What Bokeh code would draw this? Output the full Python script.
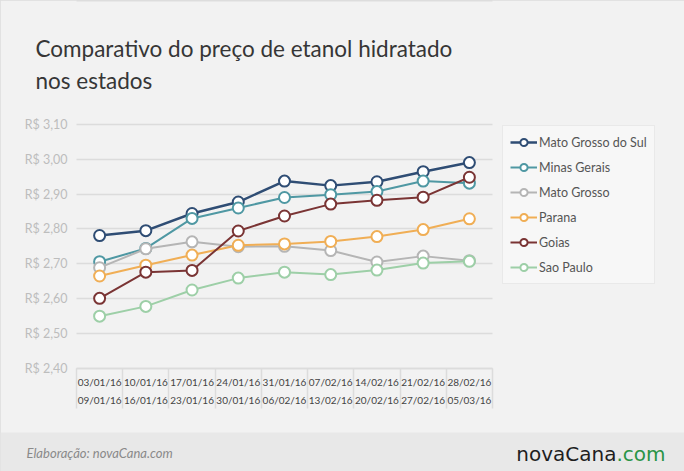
from bokeh.plotting import figure
from bokeh.models import (FixedTicker, Label, Legend, LegendItem, ColumnDataSource,
                          Range1d, BoxAnnotation)
from bokeh.embed import file_html
from bokeh.resources import INLINE

# ---- data ----
weeks_start = ["03/01/16", "10/01/16", "17/01/16", "24/01/16", "31/01/16",
               "07/02/16", "14/02/16", "21/02/16", "28/02/16"]
weeks_end = ["09/01/16", "16/01/16", "23/01/16", "30/01/16", "06/02/16",
             "13/02/16", "20/02/16", "27/02/16", "05/03/16"]
mato_grosso_do_sul = [2.781, 2.795, 2.844, 2.877, 2.937, 2.924, 2.935, 2.964, 2.990]
minas_gerais = [2.706, 2.744, 2.830, 2.860, 2.890, 2.898, 2.907, 2.937, 2.931]
mato_grosso = [2.689, 2.743, 2.763, 2.749, 2.750, 2.738, 2.705, 2.722, 2.709]
parana = [2.665, 2.696, 2.725, 2.753, 2.757, 2.764, 2.778, 2.798, 2.829]
goias = [2.601, 2.676, 2.681, 2.794, 2.837, 2.871, 2.882, 2.891, 2.948]
sao_paulo = [2.550, 2.578, 2.625, 2.659, 2.676, 2.669, 2.682, 2.702, 2.707]
y_ticks = [2.40, 2.50, 2.60, 2.70, 2.80, 2.90, 3.00, 3.10]

series = [
    ("Mato Grosso do Sul", mato_grosso_do_sul, "#2f4d74", 2.5),
    ("Minas Gerais", minas_gerais, "#4f98a3", 2),
    ("Mato Grosso", mato_grosso, "#b5b5b5", 2),
    ("Parana", parana, "#f0ae55", 2),
    ("Goias", goias, "#7a3434", 2),
    ("Sao Paulo", sao_paulo, "#9dcfa7", 2),
]

# ---- layout constants (page pixels) ----
BG = "#f2f2f2"
FONT = "Lato"
W, H = 684, 471
PX_L, PX_R = 76, 492          # left / right edge of plotting area
PY_TOP, PY_BOT = 123.7, 368   # pixel rows of y_ticks[-1] and y_ticks[0]
FOOT_TOP = 432                # top of the footer band
N = len(weeks_start)

# the frame spans the whole page; ranges are set so the plotting area lands at the pixels above
ux = N / (PX_R - PX_L)
uy = (y_ticks[-1] - y_ticks[0]) / (PY_BOT - PY_TOP)
x0, x1 = -PX_L * ux, (W - PX_L) * ux
y1 = y_ticks[-1] + PY_TOP * uy
y0 = y_ticks[0] - (H - PY_BOT) * uy

xs = [i + 0.5 for i in range(N)]

p = figure(width=W, height=H, output_backend="svg", toolbar_location=None,
           x_range=Range1d(x0, x1), y_range=Range1d(y0, y1), min_border=0)
p.background_fill_color = BG
p.border_fill_color = BG
p.outline_line_color = "#dddddd"
p.outline_line_width = 2

# grid, then cover it outside the plotting area
p.ygrid.grid_line_color = "#dcdcdc"
p.ygrid.grid_line_width = 1.5
p.ygrid.ticker = FixedTicker(ticks=y_ticks)
p.xgrid.grid_line_color = None
p.add_layout(BoxAnnotation(right=0, fill_color=BG, fill_alpha=1, line_color=None, level="underlay"))
p.add_layout(BoxAnnotation(left=N, fill_color=BG, fill_alpha=1, line_color=None, level="underlay"))
p.add_layout(BoxAnnotation(top=y0 + (H - FOOT_TOP) * uy, fill_color="#e8e8e8", fill_alpha=1,
                           line_color=None, level="underlay"))

items = []
for name, vals, color, lw in series:
    src = ColumnDataSource(dict(x=xs, y=vals))
    r1 = p.line("x", "y", source=src, line_color=color, line_width=lw)
    r2 = p.scatter("x", "y", source=src, size=11, fill_color="white",
                   line_color=color, line_width=2)
    items.append(LegendItem(label=name, renderers=[r1, r2]))

# y axis, pinned at the left edge of the plotting area
p.yaxis.fixed_location = 0
p.yaxis.ticker = FixedTicker(ticks=y_ticks)
p.yaxis.major_label_overrides = {t: "R$ " + f"{t:.2f}".replace(".", ",") for t in y_ticks}
p.yaxis.axis_line_color = None
p.yaxis.major_tick_line_color = None
p.yaxis.minor_tick_line_color = None
p.yaxis.major_tick_out = 0
p.yaxis.major_tick_in = 0
p.yaxis.major_label_text_color = "#bdbdbd"
p.yaxis.major_label_text_font = FONT
p.yaxis.major_label_text_font_size = "12.5px"
p.yaxis.major_label_standoff = 9

# x axis, pinned at the bottom of the plotting area
p.xaxis.fixed_location = y_ticks[0]
p.xaxis.ticker = FixedTicker(ticks=xs, minor_ticks=list(range(N + 1)))
p.xaxis.bounds = (0, N)
p.xaxis.major_label_overrides = {x: s + "\n" + e for x, s, e in zip(xs, weeks_start, weeks_end)}
p.xaxis.axis_line_color = "#dcdcdc"
p.xaxis.axis_line_width = 1.5
p.xaxis.major_tick_line_color = None
p.xaxis.minor_tick_line_color = "#dcdcdc"
p.xaxis.minor_tick_line_width = 1.5
p.xaxis.minor_tick_out = 40
p.xaxis.minor_tick_in = 0
p.xaxis.major_tick_out = 0
p.xaxis.major_tick_in = 0
p.xaxis.major_label_standoff = -33
p.xaxis.major_label_text_color = "#444444"
p.xaxis.major_label_text_font = FONT
p.xaxis.major_label_text_font_size = "10px"
p.xaxis.major_label_text_line_height = 1.55

legend = Legend(items=items, location=(502, H - 284), orientation="vertical")
legend.border_line_color = "#dcdcdc"
legend.border_line_width = 1.5
legend.background_fill_color = "#f7f7f7"
legend.background_fill_alpha = 1
legend.padding = 7
legend.spacing = 7
legend.glyph_width = 27
legend.glyph_height = 18
legend.label_height = 18
legend.label_standoff = 2
legend.label_text_font = FONT
legend.label_text_font_size = "12.5px"
legend.label_text_color = "#555555"
legend.margin = 0
p.add_layout(legend, "center")

# title and footer texts (screen units from the page's bottom-left corner)
p.add_layout(Label(x=35, y=H - 48, x_units="screen", y_units="screen",
                   text="Comparativo do preço de etanol hidratado",
                   text_font=FONT, text_font_size="22.5px", text_color="#363636",
                   text_baseline="alphabetic"))
p.add_layout(Label(x=35, y=H - 80, x_units="screen", y_units="screen",
                   text="nos estados",
                   text_font=FONT, text_font_size="22.5px", text_color="#363636",
                   text_baseline="alphabetic"))
p.add_layout(Label(x=26, y=H - 452, x_units="screen", y_units="screen",
                   text="Elaboração: novaCana.com", text_font=FONT,
                   text_font_style="italic", text_font_size="13px",
                   text_color="#8a8a8a", text_baseline="middle"))
p.add_layout(Label(x=616, y=H - 453, x_units="screen", y_units="screen",
                   text="novaCana", text_font="DejaVu Sans",
                   text_font_size="20px", text_color="#1e1e1e",
                   text_baseline="middle", text_align="right"))
p.add_layout(Label(x=616, y=H - 453, x_units="screen", y_units="screen",
                   text=".com", text_font="DejaVu Sans",
                   text_font_size="20px", text_color="#2a9446",
                   text_baseline="middle", text_align="left"))

open("out.html", "w").write(file_html(p, INLINE))
